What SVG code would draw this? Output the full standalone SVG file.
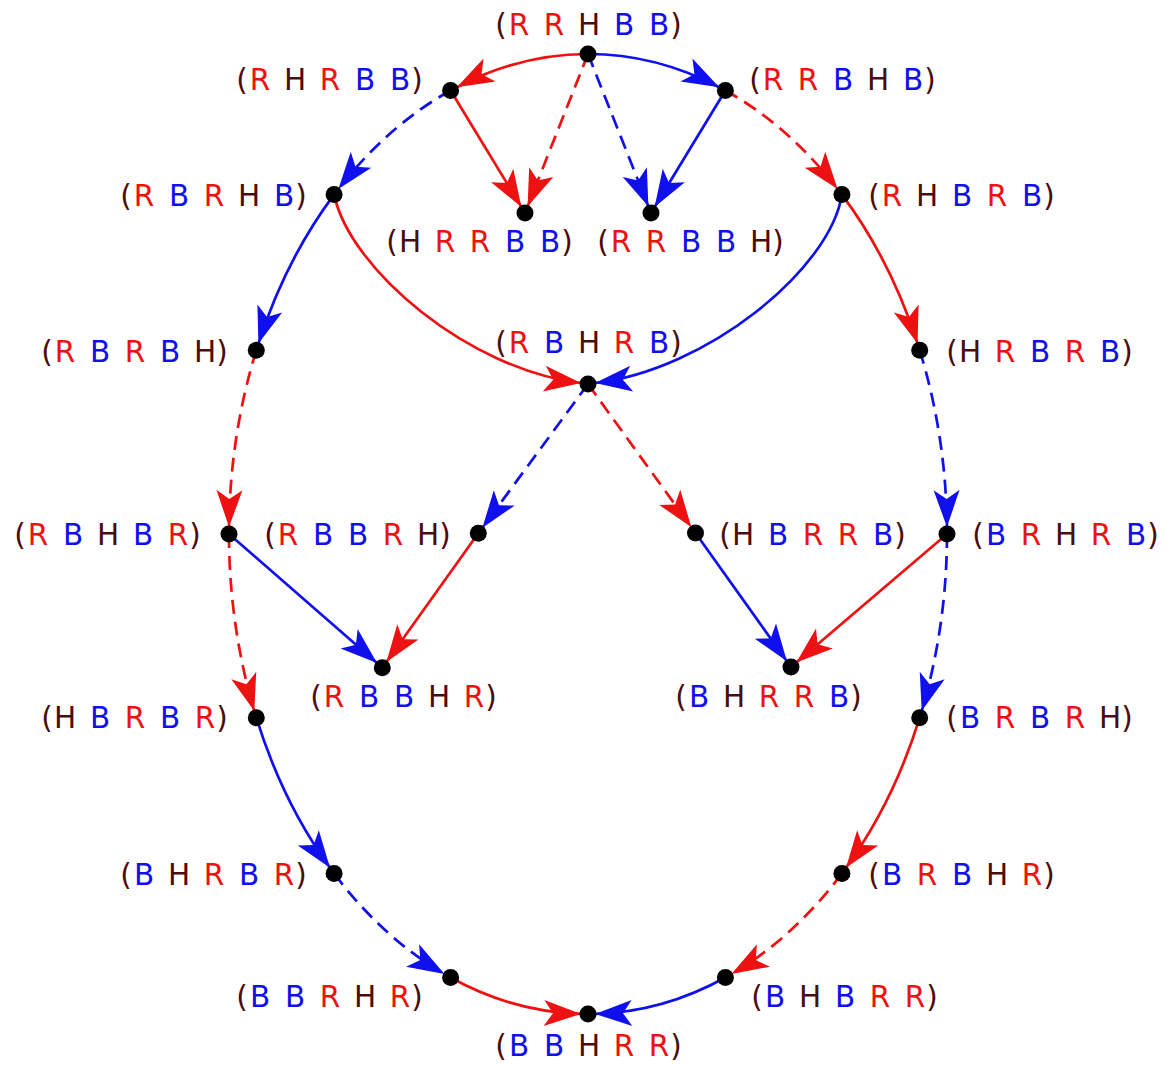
<svg xmlns="http://www.w3.org/2000/svg" width="1167" height="1065" viewBox="0 0 1167 1065">
<style>
text{font-family:"DejaVu Sans",sans-serif;font-size:29.5px;text-anchor:middle}
.r{fill:#ee1111}.b{fill:#1010ee}.k{fill:#4a0c0c}
.e{fill:none;stroke-width:2.7}
.er{stroke:#ee1111;marker-end:url(#ar)}
.eb{stroke:#1010ee;marker-end:url(#ab)}
.d{stroke-dasharray:14 8}
.dot{fill:#000}
</style>
<defs>
<marker id="ar" markerUnits="userSpaceOnUse" orient="auto" overflow="visible" markerWidth="1" markerHeight="1"><path d="M0,0 L-37,-13 L-28,0 L-37,13 Z" fill="#ee1111"/></marker>
<marker id="ab" markerUnits="userSpaceOnUse" orient="auto" overflow="visible" markerWidth="1" markerHeight="1"><path d="M0,0 L-37,-13 L-28,0 L-37,13 Z" fill="#1010ee"/></marker>
</defs>
<g id="connectors">
<path class="e er" d="M588,54 A359,480 0 0 0 456.8,87.2"/>
<path class="e eb" d="M588,54 A359,480 0 0 1 719.2,87.2"/>
<path class="e eb d" d="M450.6,90.5 A359,480 0 0 0 338.4,189.0"/>
<path class="e er d" d="M725.4,90.5 A359,480 0 0 1 837.6,189.0"/>
<path class="e eb" d="M334.1,194.6 A359,480 0 0 0 258.4,343.6"/>
<path class="e er" d="M841.9,194.6 A359,480 0 0 1 917.6,343.6"/>
<path class="e er d" d="M256.3,350.3 A359,480 0 0 0 229.04,527.0"/>
<path class="e eb d" d="M919.7,350.3 A359,480 0 0 1 946.96,527.0"/>
<path class="e er d" d="M229,534 A359,480 0 0 0 254.3,711.0"/>
<path class="e eb d" d="M947,534 A359,480 0 0 1 921.7,711.0"/>
<path class="e eb" d="M256.3,717.7 A359,480 0 0 0 330.0,867.8"/>
<path class="e er" d="M919.7,717.7 A359,480 0 0 1 846.0,867.8"/>
<path class="e eb d" d="M334.1,873.4 A359,480 0 0 0 444.5,974.1"/>
<path class="e er d" d="M841.9,873.4 A359,480 0 0 1 731.5,974.1"/>
<path class="e er" d="M450.6,977.5 A359,480 0 0 0 581.0,1013.9"/>
<path class="e eb" d="M725.4,977.5 A359,480 0 0 1 595.0,1013.9"/>
<path class="e er d" d="M588,54 L527.6,206.5"/>
<path class="e eb d" d="M588,54 L648.4,206.5"/>
<path class="e er" d="M450.6,90.5 L521.4,207.0"/>
<path class="e eb" d="M725.4,90.5 L654.6,207.0"/>
<path class="e er" d="M334.1,194.6 C350,270 470,370 581,383"/>
<path class="e eb" d="M841.9,194.6 C830,270 706,370 595,383"/>
<path class="e eb d" d="M588,384 L482.4,527.7"/>
<path class="e er d" d="M588,384 L691.4,527.3"/>
<path class="e eb" d="M229,534 L377.0,663.1"/>
<path class="e er" d="M478.3,533.3 L386.4,662.0"/>
<path class="e eb" d="M695.5,533 L786.9,661.3"/>
<path class="e er" d="M947,534 L796.3,662.5"/>
</g>
<g id="n1"><circle class="dot" cx="588" cy="54" r="8.5"/><text y="35"><tspan class="k" x="501">(</tspan><tspan class="r" x="519">R</tspan><tspan class="r" x="554">R</tspan><tspan class="k" x="589">H</tspan><tspan class="b" x="624">B</tspan><tspan class="b" x="659">B</tspan><tspan class="k" x="676">)</tspan></text></g>
<g id="n2"><circle class="dot" cx="450.6" cy="90.5" r="8.5"/><text y="90"><tspan class="k" x="242">(</tspan><tspan class="r" x="260">R</tspan><tspan class="k" x="295">H</tspan><tspan class="r" x="330">R</tspan><tspan class="b" x="365">B</tspan><tspan class="b" x="400">B</tspan><tspan class="k" x="417">)</tspan></text></g>
<g id="n3"><circle class="dot" cx="725.4" cy="90.5" r="8.5"/><text y="90"><tspan class="k" x="755">(</tspan><tspan class="r" x="773">R</tspan><tspan class="r" x="808">R</tspan><tspan class="b" x="843">B</tspan><tspan class="k" x="878">H</tspan><tspan class="b" x="913">B</tspan><tspan class="k" x="930">)</tspan></text></g>
<g id="n4"><circle class="dot" cx="334.1" cy="194.6" r="8.5"/><text y="206"><tspan class="k" x="126">(</tspan><tspan class="r" x="144">R</tspan><tspan class="b" x="179">B</tspan><tspan class="r" x="214">R</tspan><tspan class="k" x="249">H</tspan><tspan class="b" x="284">B</tspan><tspan class="k" x="301">)</tspan></text></g>
<g id="n5"><circle class="dot" cx="525" cy="213" r="8.5"/><text y="252"><tspan class="k" x="392">(</tspan><tspan class="k" x="410">H</tspan><tspan class="r" x="445">R</tspan><tspan class="r" x="480">R</tspan><tspan class="b" x="515">B</tspan><tspan class="b" x="550">B</tspan><tspan class="k" x="567">)</tspan></text></g>
<g id="n6"><circle class="dot" cx="651" cy="213" r="8.5"/><text y="252"><tspan class="k" x="603">(</tspan><tspan class="r" x="621">R</tspan><tspan class="r" x="656">R</tspan><tspan class="b" x="691">B</tspan><tspan class="b" x="726">B</tspan><tspan class="k" x="761">H</tspan><tspan class="k" x="778">)</tspan></text></g>
<g id="n7"><circle class="dot" cx="841.9" cy="194.6" r="8.5"/><text y="206"><tspan class="k" x="874">(</tspan><tspan class="r" x="892">R</tspan><tspan class="k" x="927">H</tspan><tspan class="b" x="962">B</tspan><tspan class="r" x="997">R</tspan><tspan class="b" x="1032">B</tspan><tspan class="k" x="1049">)</tspan></text></g>
<g id="n8"><circle class="dot" cx="256.3" cy="350.3" r="8.5"/><text y="362"><tspan class="k" x="47">(</tspan><tspan class="r" x="65">R</tspan><tspan class="b" x="100">B</tspan><tspan class="r" x="135">R</tspan><tspan class="b" x="170">B</tspan><tspan class="k" x="205">H</tspan><tspan class="k" x="222">)</tspan></text></g>
<g id="n9"><circle class="dot" cx="588" cy="384" r="8.5"/><text y="353"><tspan class="k" x="501">(</tspan><tspan class="r" x="519">R</tspan><tspan class="b" x="554">B</tspan><tspan class="k" x="589">H</tspan><tspan class="r" x="624">R</tspan><tspan class="b" x="659">B</tspan><tspan class="k" x="676">)</tspan></text></g>
<g id="n10"><circle class="dot" cx="919.7" cy="350.3" r="8.5"/><text y="362"><tspan class="k" x="952">(</tspan><tspan class="k" x="970">H</tspan><tspan class="r" x="1005">R</tspan><tspan class="b" x="1040">B</tspan><tspan class="r" x="1075">R</tspan><tspan class="b" x="1110">B</tspan><tspan class="k" x="1127">)</tspan></text></g>
<g id="n11"><circle class="dot" cx="229" cy="534" r="8.5"/><text y="545"><tspan class="k" x="20">(</tspan><tspan class="r" x="38">R</tspan><tspan class="b" x="73">B</tspan><tspan class="k" x="108">H</tspan><tspan class="b" x="143">B</tspan><tspan class="r" x="178">R</tspan><tspan class="k" x="195">)</tspan></text></g>
<g id="n12"><circle class="dot" cx="478.3" cy="533.3" r="8.5"/><text y="545"><tspan class="k" x="270">(</tspan><tspan class="r" x="288">R</tspan><tspan class="b" x="323">B</tspan><tspan class="b" x="358">B</tspan><tspan class="r" x="393">R</tspan><tspan class="k" x="428">H</tspan><tspan class="k" x="445">)</tspan></text></g>
<g id="n13"><circle class="dot" cx="695.5" cy="533" r="8.5"/><text y="545"><tspan class="k" x="725">(</tspan><tspan class="k" x="743">H</tspan><tspan class="b" x="778">B</tspan><tspan class="r" x="813">R</tspan><tspan class="r" x="848">R</tspan><tspan class="b" x="883">B</tspan><tspan class="k" x="900">)</tspan></text></g>
<g id="n14"><circle class="dot" cx="947" cy="534" r="8.5"/><text y="545"><tspan class="k" x="978">(</tspan><tspan class="b" x="996">B</tspan><tspan class="r" x="1031">R</tspan><tspan class="k" x="1066">H</tspan><tspan class="r" x="1101">R</tspan><tspan class="b" x="1136">B</tspan><tspan class="k" x="1153">)</tspan></text></g>
<g id="n15"><circle class="dot" cx="382.3" cy="667.7" r="8.5"/><text y="707"><tspan class="k" x="316">(</tspan><tspan class="r" x="334">R</tspan><tspan class="b" x="369">B</tspan><tspan class="b" x="404">B</tspan><tspan class="k" x="439">H</tspan><tspan class="r" x="474">R</tspan><tspan class="k" x="491">)</tspan></text></g>
<g id="n16"><circle class="dot" cx="791" cy="667" r="8.5"/><text y="707"><tspan class="k" x="681">(</tspan><tspan class="b" x="699">B</tspan><tspan class="k" x="734">H</tspan><tspan class="r" x="769">R</tspan><tspan class="r" x="804">R</tspan><tspan class="b" x="839">B</tspan><tspan class="k" x="856">)</tspan></text></g>
<g id="n17"><circle class="dot" cx="256.3" cy="717.7" r="8.5"/><text y="728"><tspan class="k" x="47">(</tspan><tspan class="k" x="65">H</tspan><tspan class="b" x="100">B</tspan><tspan class="r" x="135">R</tspan><tspan class="b" x="170">B</tspan><tspan class="r" x="205">R</tspan><tspan class="k" x="222">)</tspan></text></g>
<g id="n18"><circle class="dot" cx="919.7" cy="717.7" r="8.5"/><text y="728"><tspan class="k" x="952">(</tspan><tspan class="b" x="970">B</tspan><tspan class="r" x="1005">R</tspan><tspan class="b" x="1040">B</tspan><tspan class="r" x="1075">R</tspan><tspan class="k" x="1110">H</tspan><tspan class="k" x="1127">)</tspan></text></g>
<g id="n19"><circle class="dot" cx="334.1" cy="873.4" r="8.5"/><text y="885"><tspan class="k" x="126">(</tspan><tspan class="b" x="144">B</tspan><tspan class="k" x="179">H</tspan><tspan class="r" x="214">R</tspan><tspan class="b" x="249">B</tspan><tspan class="r" x="284">R</tspan><tspan class="k" x="301">)</tspan></text></g>
<g id="n20"><circle class="dot" cx="841.9" cy="873.4" r="8.5"/><text y="885"><tspan class="k" x="874">(</tspan><tspan class="b" x="892">B</tspan><tspan class="r" x="927">R</tspan><tspan class="b" x="962">B</tspan><tspan class="k" x="997">H</tspan><tspan class="r" x="1032">R</tspan><tspan class="k" x="1049">)</tspan></text></g>
<g id="n21"><circle class="dot" cx="450.6" cy="977.5" r="8.5"/><text y="1007"><tspan class="k" x="242">(</tspan><tspan class="b" x="260">B</tspan><tspan class="b" x="295">B</tspan><tspan class="r" x="330">R</tspan><tspan class="k" x="365">H</tspan><tspan class="r" x="400">R</tspan><tspan class="k" x="417">)</tspan></text></g>
<g id="n22"><circle class="dot" cx="725.4" cy="977.5" r="8.5"/><text y="1007"><tspan class="k" x="757">(</tspan><tspan class="b" x="775">B</tspan><tspan class="k" x="810">H</tspan><tspan class="b" x="845">B</tspan><tspan class="r" x="880">R</tspan><tspan class="r" x="915">R</tspan><tspan class="k" x="932">)</tspan></text></g>
<g id="n23"><circle class="dot" cx="588" cy="1014" r="8.5"/><text y="1056"><tspan class="k" x="501">(</tspan><tspan class="b" x="519">B</tspan><tspan class="b" x="554">B</tspan><tspan class="k" x="589">H</tspan><tspan class="r" x="624">R</tspan><tspan class="r" x="659">R</tspan><tspan class="k" x="676">)</tspan></text></g>
</svg>
